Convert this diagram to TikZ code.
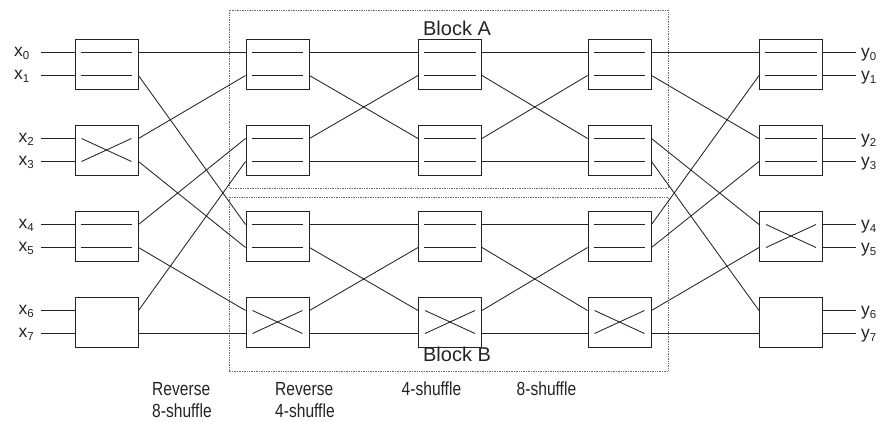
\documentclass[tikz,border=0pt]{standalone}
\usepackage{fontspec}
\setmainfont{Liberation Sans}
\newfontfamily\narrowsans[FakeStretch=0.82]{Liberation Sans}

\definecolor{inkc}{RGB}{35,35,35}
\definecolor{framec}{RGB}{110,110,110}

% port coordinates of a 2x2 switch box
\newcommand\swports[1]{%
  \coordinate (#1-i0) at ([yshift=11.5pt]#1.west);
  \coordinate (#1-i1) at ([yshift=-11.5pt]#1.west);
  \coordinate (#1-o0) at ([yshift=11.5pt]#1.east);
  \coordinate (#1-o1) at ([yshift=-11.5pt]#1.east);}
% straight-through switch
\newcommand\swBar[3]{%
  \node[swbox] (#1) at (#2,#3) {};\swports{#1}%
  \draw[wire] ([xshift=6pt]#1-i0) -- ([xshift=-6pt]#1-o0);
  \draw[wire] ([xshift=6pt]#1-i1) -- ([xshift=-6pt]#1-o1);}
% crossing switch
\newcommand\swCross[3]{%
  \node[swbox] (#1) at (#2,#3) {};\swports{#1}%
  \draw[wire] ([xshift=7pt]#1-i0) -- ([xshift=-7pt]#1-o1);
  \draw[wire] ([xshift=7pt]#1-i1) -- ([xshift=-7pt]#1-o0);}
% switch with unspecified setting
\newcommand\swPlain[3]{%
  \node[swbox] (#1) at (#2,#3) {};\swports{#1}}
\newcommand\lowsub[1]{\raisebox{-3.5pt}{\fontsize{11.5}{11.5}\selectfont #1}}

\begin{document}
\begin{tikzpicture}[x=1pt,y=-1pt,
  swbox/.style={draw=inkc, line width=0.95pt, minimum width=63pt,
    minimum height=50pt, inner sep=0pt},
  wire/.style={draw=inkc, line width=0.85pt},
  blockframe/.style={draw=framec, line width=0.7pt, densely dotted},
  iolab/.style={font=\fontsize{17.5}{17.5}\selectfont, text=inkc,
    inner sep=0pt, anchor=base west},
  blocklab/.style={font=\fontsize{20}{20}\selectfont, text=inkc,
    inner sep=0pt, anchor=base},
  stagelab/.style={font=\narrowsans\fontsize{19}{19}\selectfont,
    text=inkc, inner sep=0pt, anchor=base west}]
\useasboundingbox (0,0) rectangle (881,421);

% block outlines
\draw[blockframe] (229,10) rectangle (668,188);
\draw[blockframe] (229,197) rectangle (668,371);
\node[blocklab] (blkA) at (457,35) {Block A};
\node[blocklab] (blkB) at (457,361) {Block B};

% switch columns
\swBar{c1r1}{106.5}{64}   \swCross{c1r2}{106.5}{150}
\swBar{c1r3}{106.5}{236}  \swPlain{c1r4}{106.5}{322}
\swBar{c2r1}{277.5}{64}   \swBar{c2r2}{277.5}{150}
\swBar{c2r3}{277.5}{236}  \swCross{c2r4}{277.5}{322}
\swBar{c3r1}{450}{64}     \swBar{c3r2}{450}{150}
\swBar{c3r3}{450}{236}    \swCross{c3r4}{450}{322}
\swBar{c4r1}{619.5}{64}   \swBar{c4r2}{619.5}{150}
\swBar{c4r3}{619.5}{236}  \swCross{c4r4}{619.5}{322}
\swBar{c5r1}{791}{64}     \swBar{c5r2}{791}{150}
\swCross{c5r3}{791}{236}  \swPlain{c5r4}{791}{322}

% inputs and outputs
\foreach \r in {1,...,4}{
  \foreach \p in {0,1}{
    \coordinate (xin\r\p) at ([xshift=-33.5pt]c1r\r-i\p);
    \draw[wire] (xin\r\p) -- (c1r\r-i\p);
    \coordinate (yout\r\p) at ([xshift=33pt]c5r\r-o\p);
    \draw[wire] (c5r\r-o\p) -- (yout\r\p);
  }}
\node[iolab] (x0) at (14,56) {x\lowsub{0}};
\node[iolab] (x1) at (14,79) {x\lowsub{1}};
\node[iolab] (x2) at (18.5,142) {x\lowsub{2}};
\node[iolab] (x3) at (18.5,165) {x\lowsub{3}};
\node[iolab] (x4) at (18.5,228) {x\lowsub{4}};
\node[iolab] (x5) at (18.5,251) {x\lowsub{5}};
\node[iolab] (x6) at (18.5,314) {x\lowsub{6}};
\node[iolab] (x7) at (18.5,337) {x\lowsub{7}};
\node[iolab] (y0) at (861,57) {y\lowsub{0}};
\node[iolab] (y1) at (861,80) {y\lowsub{1}};
\node[iolab] (y2) at (861,143) {y\lowsub{2}};
\node[iolab] (y3) at (861,166) {y\lowsub{3}};
\node[iolab] (y4) at (861,229) {y\lowsub{4}};
\node[iolab] (y5) at (861,252) {y\lowsub{5}};
\node[iolab] (y6) at (861,315) {y\lowsub{6}};
\node[iolab] (y7) at (861,338) {y\lowsub{7}};

% reverse 8-shuffle
\foreach \a/\p/\b/\q in {1/0/1/0, 1/1/3/0, 2/0/1/1, 2/1/3/1,
                         3/0/2/0, 3/1/4/0, 4/0/2/1, 4/1/4/1}
  \draw[wire] (c1r\a-o\p) -- (c2r\b-i\q);
% reverse 4-shuffle and 4-shuffle
\foreach \s/\t in {2/3, 3/4}
  \foreach \a/\p/\b/\q in {1/0/1/0, 1/1/2/0, 2/0/1/1, 2/1/2/1,
                           3/0/3/0, 3/1/4/0, 4/0/3/1, 4/1/4/1}
    \draw[wire] (c\s r\a-o\p) -- (c\t r\b-i\q);
% 8-shuffle
\foreach \a/\p/\b/\q in {1/0/1/0, 1/1/2/0, 2/0/3/0, 2/1/4/0,
                         3/0/1/1, 3/1/2/1, 4/0/3/1, 4/1/4/1}
  \draw[wire] (c4r\a-o\p) -- (c5r\b-i\q);

% stage captions
\node[stagelab] (s1a) at (152,395) {Reverse};
\node[stagelab] (s1b) at (152,417) {8-shuffle};
\node[stagelab] (s2a) at (275,395) {Reverse};
\node[stagelab] (s2b) at (275,417) {4-shuffle};
\node[stagelab] (s3) at (401.5,395) {4-shuffle};
\node[stagelab] (s4) at (516.5,395) {8-shuffle};
\end{tikzpicture}
\end{document}
